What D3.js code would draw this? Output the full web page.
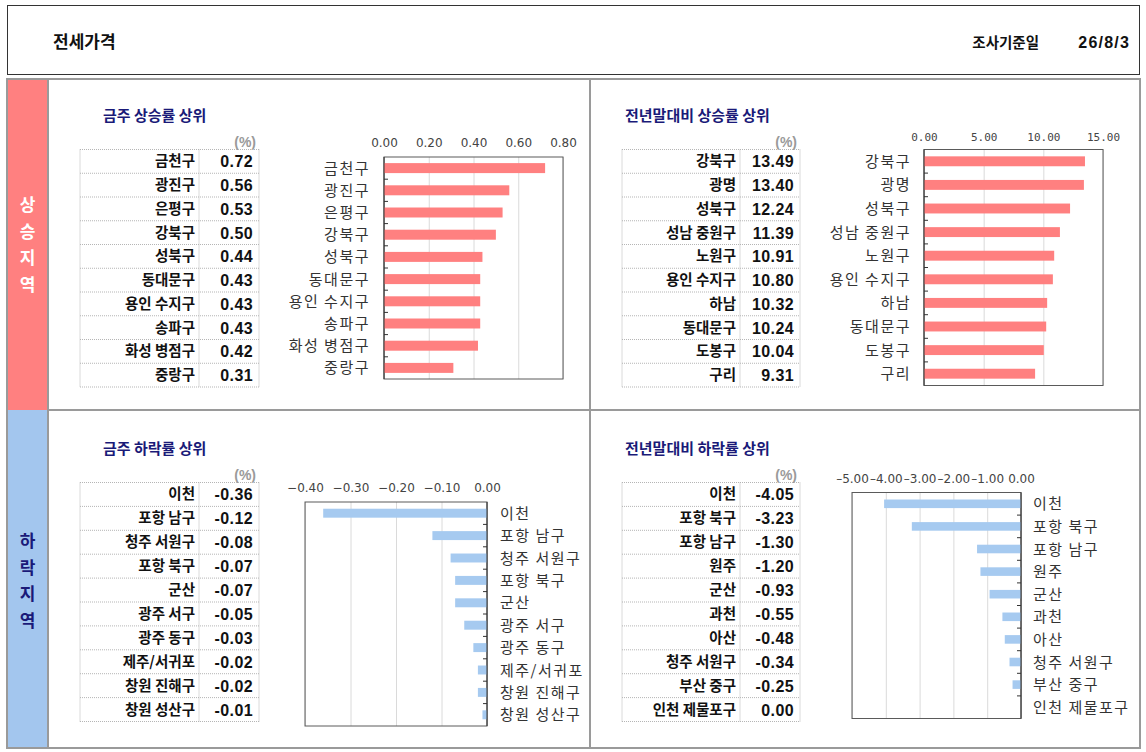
<!DOCTYPE html>
<html>
<head>
<meta charset="utf-8">
<script src="https://cdn.jsdelivr.net/npm/d3@7"></script>
<style>
  body { margin: 0; background: #fff; }
  svg { display: block; }
</style>
</head>
<body>
<svg width="1146" height="752"></svg>
<script>
var weekUpNames = ["금천구", "광진구", "은평구", "강북구", "성북구", "동대문구", "용인 수지구", "송파구", "화성 병점구", "중랑구"];
var weekUpValues = [0.72, 0.56, 0.53, 0.50, 0.44, 0.43, 0.43, 0.43, 0.42, 0.31];
var weekUpTicks = [0, 0.2, 0.4, 0.6, 0.8];

var yearUpNames = ["강북구", "광명", "성북구", "성남 중원구", "노원구", "용인 수지구", "하남", "동대문구", "도봉구", "구리"];
var yearUpValues = [13.49, 13.40, 12.24, 11.39, 10.91, 10.80, 10.32, 10.24, 10.04, 9.31];
var yearUpTicks = [0, 5, 10, 15];

var weekDownNames = ["이천", "포항 남구", "청주 서원구", "포항 북구", "군산", "광주 서구", "광주 동구", "제주/서귀포", "창원 진해구", "창원 성산구"];
var weekDownValues = [-0.36, -0.12, -0.08, -0.07, -0.07, -0.05, -0.03, -0.02, -0.02, -0.01];
var weekDownTicks = [-0.4, -0.3, -0.2, -0.1, 0];

var yearDownNames = ["이천", "포항 북구", "포항 남구", "원주", "군산", "과천", "아산", "청주 서원구", "부산 중구", "인천 제물포구"];
var yearDownValues = [-4.05, -3.23, -1.30, -1.20, -0.93, -0.55, -0.48, -0.34, -0.25, 0.00];
var yearDownTicks = [-5, -4, -3, -2, -1, 0];

var upBandLetters = ["상", "승", "지", "역"];
var downBandLetters = ["하", "락", "지", "역"];

var kr = "'Noto Sans CJK KR', 'Noto Sans', sans-serif";
var num = "'Liberation Sans', Arial, sans-serif";
var pink = "#ff8080";
var blue = "#a6caf0";
var navy = "#1a1a78";

var svg = d3.select("svg");

// header
svg.append("rect").attr("x", 7.5).attr("y", 5.5).attr("width", 1132).attr("height", 69)
    .attr("fill", "#fff").attr("stroke", "#333");
svg.append("text").attr("x", 53).attr("y", 48).text("전세가격")
    .attr("font-family", kr).attr("font-weight", 700).attr("font-size", 17).attr("fill", "#111");
svg.append("text").attr("x", 1039).attr("y", 48).attr("text-anchor", "end").text("조사기준일")
    .attr("font-family", kr).attr("font-weight", 700).attr("font-size", 14.5).attr("fill", "#111");
svg.append("text").attr("x", 1130).attr("y", 48).attr("text-anchor", "end").text("26/8/3")
    .attr("font-family", num).attr("font-weight", 700).attr("font-size", 16).attr("letter-spacing", 1.2)
    .attr("fill", "#111");

// side bands
svg.append("rect").attr("x", 7).attr("y", 79).attr("width", 41).attr("height", 331).attr("fill", pink);
svg.append("rect").attr("x", 7).attr("y", 410).attr("width", 41).attr("height", 338).attr("fill", "#a3c6ee");

function bandText(letters, cy, color) {
    var y = d3.scalePoint().domain(d3.range(letters.length)).range([cy - 40, cy + 40]);
    svg.selectAll(null).data(letters).enter().append("text")
        .attr("x", 27.5).attr("y", function(d, i) { return y(i) + 6; })
        .attr("text-anchor", "middle").text(function(d) { return d; })
        .attr("font-family", kr).attr("font-weight", 700).attr("font-size", 17).attr("fill", color);
}
bandText(upBandLetters, 245, "#fff");
bandText(downBandLetters, 581, navy);

// frames
var grid = svg.append("g").attr("fill", "none").attr("stroke", "#9a9a9a").attr("stroke-width", 2);
grid.append("rect").attr("x", 7).attr("y", 79).attr("width", 1133).attr("height", 669);
grid.append("line").attr("x1", 48).attr("x2", 48).attr("y1", 79).attr("y2", 748);
grid.append("line").attr("x1", 590).attr("x2", 590).attr("y1", 79).attr("y2", 748);
grid.append("line").attr("x1", 48).attr("x2", 1140).attr("y1", 410).attr("y2", 410);

function drawTable(title, titleX, names, values, x0, xd, x1, y0, y1) {
    svg.append("text").attr("x", titleX).attr("y", y0 - 29).text(title)
        .attr("font-family", kr).attr("font-weight", 700).attr("font-size", 15).attr("fill", navy);
    svg.append("text").attr("x", x1 - 3).attr("y", y0 - 3).attr("text-anchor", "end").text("(%)")
        .attr("font-family", num).attr("font-weight", 700).attr("font-size", 14).attr("fill", "#9a9a9a");

    var y = d3.scaleBand().domain(d3.range(names.length)).range([y0, y1]);
    var g = svg.append("g");
    g.selectAll(null).data(d3.range(names.length + 1)).enter().append("line")
        .attr("x1", x0).attr("x2", x1)
        .attr("y1", function(i) { return i < names.length ? y(i) : y1; })
        .attr("y2", function(i) { return i < names.length ? y(i) : y1; })
        .attr("stroke", "#b5b5b5").attr("stroke-dasharray", "1,1");
    [x0, xd, x1].forEach(function(xx) {
        g.append("line").attr("x1", xx).attr("x2", xx).attr("y1", y0).attr("y2", y1)
            .attr("stroke", "#b5b5b5").attr("stroke-dasharray", "1,1");
    });
    g.selectAll(null).data(names).enter().append("text")
        .attr("x", xd - 4).attr("y", function(d, i) { return y(i) + y.bandwidth() / 2 + 5; })
        .attr("text-anchor", "end").text(function(d) { return d; })
        .attr("font-family", kr).attr("font-weight", 700).attr("font-size", 14.5)
        .attr("fill", "#111");
    g.selectAll(null).data(values).enter().append("text")
        .attr("x", x1 - 6).attr("y", function(d, i) { return y(i) + y.bandwidth() / 2 + 6; })
        .attr("text-anchor", "end").text(function(d) { return d.toFixed(2); })
        .attr("font-family", num).attr("font-weight", 700).attr("font-size", 16).attr("letter-spacing", 0.4)
        .attr("fill", "#111");
}

function drawChart(names, values, ticks, x0, x1, y0, y1, o) {
    var x = d3.scaleLinear().domain([ticks[0], ticks[ticks.length - 1]]).range([x0, x1]);
    var y = d3.scaleBand().domain(names).range([y0, y1]).paddingInner(o.pad).paddingOuter(o.pad / 2);
    var h = y1 - y0;

    var ax = svg.append("g").attr("transform", "translate(0," + y0 + ")")
        .call(d3.axisTop(x).tickValues(ticks).tickSize(-h).tickPadding(o.tickPad)
            .tickFormat(function(d) { return d < 0 ? o.minus + Math.abs(d).toFixed(2) : d.toFixed(2); }));
    ax.select(".domain").remove();
    ax.selectAll(".tick line").attr("stroke", "#dadada");
    ax.selectAll(".tick text").attr("font-family", o.tickFont).attr("font-size", o.tickSize)
        .attr("fill", "#444").attr("letter-spacing", o.tickSpacing || 0);

    svg.append("rect").attr("x", x0).attr("y", y0).attr("width", x1 - x0).attr("height", h)
        .attr("fill", "none").attr("stroke", "#5a5a5a");

    // small ticks between categories
    var zx = x(0);
    var dir = o.side == "left" ? 1 : -1;
    svg.selectAll(null).data(names.slice(1)).enter().append("line")
        .attr("x1", zx).attr("x2", zx + dir * 4)
        .attr("y1", function(d) { return y(d) - y.step() * o.pad / 2; })
        .attr("y2", function(d) { return y(d) - y.step() * o.pad / 2; })
        .attr("stroke", "#333");

    svg.selectAll(null).data(names).enter().append("rect")
        .attr("x", function(d, i) { return Math.min(x(0), x(values[i])); })
        .attr("y", function(d) { return y(d); })
        .attr("width", function(d, i) { return Math.abs(x(values[i]) - x(0)); })
        .attr("height", y.bandwidth())
        .attr("fill", o.color);

    svg.append("line").attr("x1", zx).attr("x2", zx).attr("y1", y0).attr("y2", y1).attr("stroke", "#333");

    svg.selectAll(null).data(names).enter().append("text")
        .attr("x", o.labelX)
        .attr("y", function(d) { return y(d) + y.bandwidth() / 2 + 5.5; })
        .attr("text-anchor", o.side == "left" ? "end" : "start")
        .text(function(d) { return d; })
        .attr("font-family", kr).attr("font-size", 15).attr("letter-spacing", 1.5).attr("fill", "#333");
}

drawTable("금주 상승률 상위", 103, weekUpNames, weekUpValues, 80, 199, 259, 149.5, 387);
drawTable("전년말대비 상승률 상위", 625, yearUpNames, yearUpValues, 622, 740, 800, 149.5, 387);
drawTable("금주 하락률 상위", 103, weekDownNames, weekDownValues, 80, 199, 259, 482.5, 721.5);
drawTable("전년말대비 하락률 상위", 625, yearDownNames, yearDownValues, 622, 740, 800, 482.5, 721.5);

drawChart(weekUpNames, weekUpValues, weekUpTicks, 384, 563, 157, 379,
    { pad: 0.55, color: pink, side: "left", labelX: 370, tickPad: 10,
      tickFont: "'DejaVu Sans', sans-serif", tickSize: 12 });
drawChart(yearUpNames, yearUpValues, yearUpTicks, 924, 1103, 149.5, 385.5,
    { pad: 0.58, color: pink, side: "left", labelX: 911, tickPad: 9,
      tickFont: "'DejaVu Sans Mono', monospace", tickSize: 11 });
drawChart(weekDownNames, weekDownValues, weekDownTicks, 305, 487, 502, 726,
    { pad: 0.6, color: blue, side: "right", labelX: 500, tickPad: 10, minus: "\u2212",
      tickFont: "'DejaVu Sans', sans-serif", tickSize: 12 });
drawChart(yearDownNames, yearDownValues, yearDownTicks, 852, 1021, 492.5, 718.5,
    { pad: 0.62, color: blue, side: "right", labelX: 1033, tickPad: 10, minus: "\u2013",
      tickFont: "'DejaVu Sans', sans-serif", tickSize: 12 });
</script>
</body>
</html>
